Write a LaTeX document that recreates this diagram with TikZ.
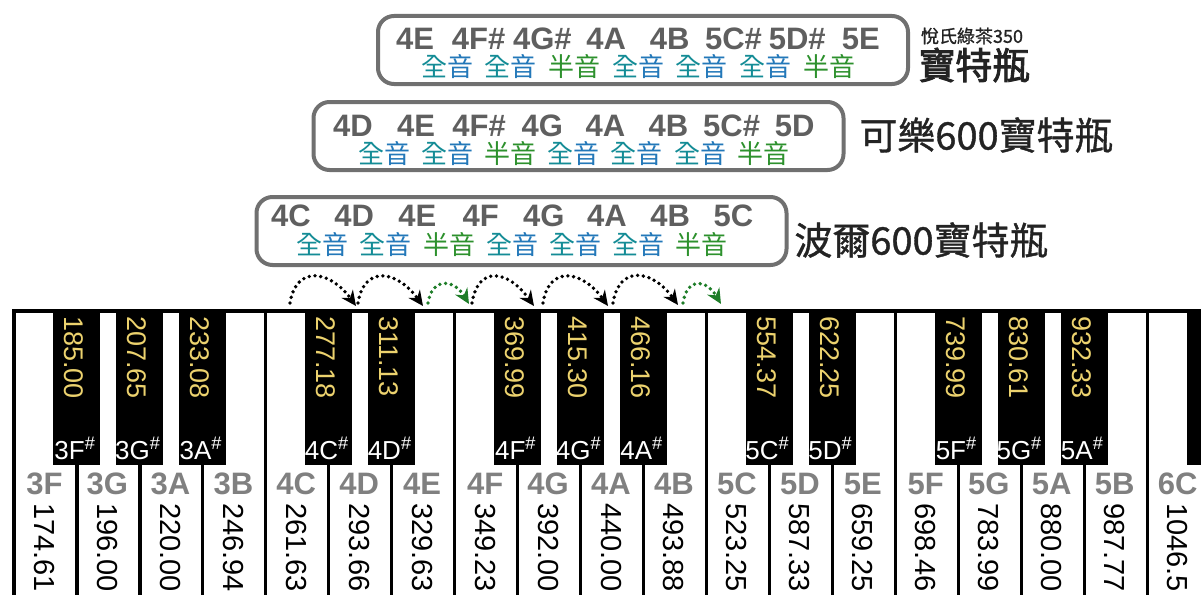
\documentclass[tikz,border=0pt]{standalone}
\usepackage{fontspec}
\setmainfont{Liberation Sans}
\newfontfamily\cjk{Noto Sans CJK TC}
\newfontfamily\cjkm[FakeBold=1]{Noto Sans CJK TC}
\newfontfamily\cjkb[FakeBold=2.5]{Noto Sans CJK TC}
\usetikzlibrary{arrows.meta}
\definecolor{boxgray}{RGB}{112,112,112}
\definecolor{notegray}{RGB}{95,95,95}
\definecolor{keygray}{RGB}{128,128,128}
\definecolor{qteal}{RGB}{20,140,150}
\definecolor{qblue}{RGB}{35,120,185}
\definecolor{hgreen}{RGB}{45,145,45}
\definecolor{freqyellow}{RGB}{236,210,110}
\definecolor{arcgreen}{RGB}{30,125,40}
\definecolor{labelblack}{RGB}{35,35,35}
\newcommand{\WholeTone}{{\color{qteal}全}{\color{qblue}音}}
\newcommand{\HalfTone}{{\color{hgreen}半音}}
\newcommand{\FS}[1]{\fontsize{#1}{#1}\selectfont}
\tikzset{
  bottlebox/.style={draw=boxgray, line width=4pt, rounded corners=16pt, minimum width=530pt, minimum height=68pt, inner sep=0pt},
  notename/.style={font=\FS{31}\bfseries, text=notegray, anchor=base, inner sep=0pt},
  stepname/.style={font=\cjk\FS{26}, anchor=center, inner sep=0pt},
  bottlelabel/.style={font=\cjkm\FS{38}, text=labelblack, inner sep=0pt},
  keyline/.style={line width=3.2pt, draw=black},
  blackkey/.style={fill=black, draw=none},
  bkname/.style={font=\FS{26}, text=white, anchor=base, inner sep=0pt},
  bkfreq/.style={font=\FS{27}, text=freqyellow, rotate=-90, anchor=base west, inner sep=0pt},
  wkname/.style={font=\FS{31}\bfseries, text=keygray, anchor=center, inner sep=0pt},
  wkfreq/.style={font=\FS{29}, text=black, rotate=-90, anchor=base west, inner sep=0pt},
  steparc/.style={line width=3.8pt, dash pattern=on 0pt off 5.8pt, line cap=round, -{Stealth[length=15pt,width=14pt]}},
}
\begin{document}
\begin{tikzpicture}[x=1pt,y=-1pt]
\useasboundingbox (0,0) rectangle (1201,594);
\fill[white] (0,0) rectangle (1201,594);
\begin{scope}
\clip (0,0) rectangle (1201,594);
% white keys
\foreach \nm/\fq [count=\i from 0] in {3F/174.61,3G/196.00,3A/220.00,3B/246.94,4C/261.63,4D/293.66,4E/329.63,4F/349.23,4G/392.00,4A/440.00,4B/493.88,5C/523.25,5D/587.33,5E/659.25,5F/698.46,5G/783.99,5A/880.00,5B/987.77,6C/1046.5}{
  \pgfmathsetmacro\xl{14+\i*62.95}
  \pgfmathsetmacro\xc{\xl+31.475}
  \draw[keyline] (\xl,311) rectangle ++(62.95,300);
  \node[wkname] (wn\i) at (\xc-1,484) {\nm};
  \node[wkfreq] (wf\i) at (\xc-11,503) {\fq};
}
% black keys
\foreach \i/\nm/\fq in {1/3F/185.00,2/3G/207.65,3/3A/233.08,5/4C/277.18,6/4D/311.13,8/4F/369.99,9/4G/415.30,10/4A/466.16,12/5C/554.37,13/5D/622.25,15/5F/739.99,16/5G/830.61,17/5A/932.33}{
  \pgfmathsetmacro\xc{14+\i*62.95}
  \fill[blackkey] (\xc-23.5,311) rectangle (\xc+23.5,465);
  \node[bkname] (bn\i) at (\xc-2,459) {\nm\textsuperscript{\#}};
  \node[bkfreq] (bf\i) at (\xc-12,316) {\fq};
}
\fill[blackkey] (1186.5,311) rectangle (1233.5,465);
\draw[line width=4pt] (12,311) -- (1201,311);
\end{scope}
% bottle boxes
\node[bottlebox] (box1) at (643,50) {};
\node[bottlebox] (box2) at (578.5,136) {};
\node[bottlebox] (box3) at (521.5,231) {};
% box 1 notes
\foreach \t [count=\k from 0] in {4E,4F\#,4G\#,4A,4B,5C\#,5D\#,5E}{
  \node[notename] (n1\k) at ({415+\k*63.7},49.5) {\t};
}
\foreach \s [count=\k from 0] in {\WholeTone,\WholeTone,\HalfTone,\WholeTone,\WholeTone,\WholeTone,\HalfTone}{
  \node[stepname] (s1\k) at ({447+\k*63.7},67) {\s};
}
% box 2 notes
\foreach \t [count=\k from 0] in {4D,4E,4F\#,4G,4A,4B,5C\#,5D}{
  \node[notename] (n2\k) at ({353+\k*63.1},136.5) {\t};
}
\foreach \s [count=\k from 0] in {\WholeTone,\WholeTone,\HalfTone,\WholeTone,\WholeTone,\WholeTone,\HalfTone}{
  \node[stepname] (s2\k) at ({384.5+\k*63.1},154) {\s};
}
% box 3 notes
\foreach \t [count=\k from 0] in {4C,4D,4E,4F,4G,4A,4B,5C}{
  \node[notename] (n3\k) at ({291+\k*63.2},226) {\t};
}
\foreach \s [count=\k from 0] in {\WholeTone,\WholeTone,\HalfTone,\WholeTone,\WholeTone,\WholeTone,\HalfTone}{
  \node[stepname] (s3\k) at ({322.6+\k*63.2},245) {\s};
}
% bottle labels
\node[font=\cjkm\FS{18}, text=labelblack, inner sep=0pt] (lab1a) at (972,36) {悅氏綠茶350};
\node[font=\cjkb\FS{37}, text=labelblack, inner sep=0pt] (lab1b) at (974,65) {寶特瓶};
\node[bottlelabel] (lab2) at (986,135) {可樂600寶特瓶};
\node[bottlelabel] (lab3) at (921,240) {波爾600寶特瓶};
% step arcs
\coordinate (s1) at (290,303); \coordinate (e1) at (356,306);
\coordinate (s2) at (358,303); \coordinate (e2) at (423,306);
\coordinate (s3) at (428,303); \coordinate (e3) at (469,304);
\coordinate (s4) at (472,303); \coordinate (e4) at (534,306);
\coordinate (s5) at (543,303); \coordinate (e5) at (608,306);
\coordinate (s6) at (613,303); \coordinate (e6) at (678,305);
\coordinate (s7) at (683,303); \coordinate (e7) at (721,304);
\foreach \a in {1,2,4,5,6}{
  \draw[steparc, black] (s\a) .. controls +(6,-38) and +(-26,-36) .. (e\a);
}
\foreach \a in {3,7}{
  \draw[steparc, arcgreen] (s\a) .. controls +(4,-26) and +(-15,-25) .. (e\a);
}
\end{tikzpicture}
\end{document}
